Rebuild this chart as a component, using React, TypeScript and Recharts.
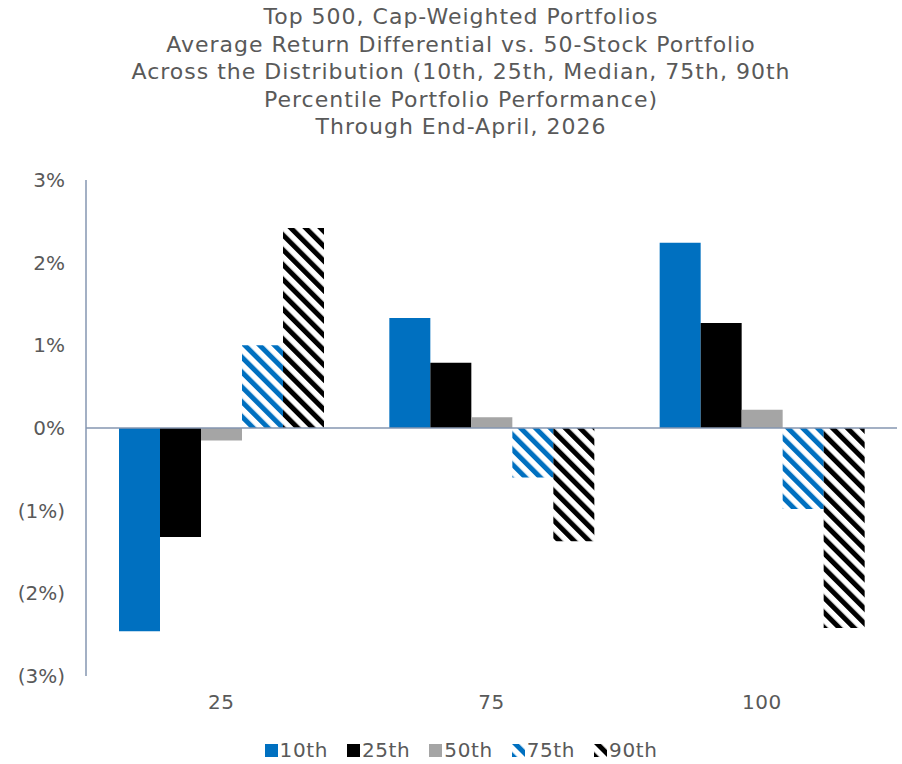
import React from "react";
import { BarChart, Bar, XAxis, YAxis, ReferenceLine } from "recharts";

const categories = ["25", "75", "100"];
const p10 = [-2.46, 1.33, 2.24];
const p25 = [-1.32, 0.79, 1.27];
const p50 = [-0.15, 0.13, 0.22];
const p75 = [1.0, -0.6, -0.98];
const p90 = [2.42, -1.37, -2.42];
const yTicks = [-3, -2, -1, 0, 1, 2, 3];
const titleLines = [
  "Top 500, Cap-Weighted Portfolios",
  "Average Return Differential vs. 50-Stock Portfolio",
  "Across the Distribution (10th, 25th, Median, 75th, 90th",
  "Percentile Portfolio Performance)",
  "Through End-April, 2026",
];

const series = [
  { key: "p10", name: "10th", fill: "#0070C0", hatch: false },
  { key: "p25", name: "25th", fill: "#000000", hatch: false },
  { key: "p50", name: "50th", fill: "#A5A5A5", hatch: false },
  { key: "p75", name: "75th", fill: "#0070C0", hatch: true },
  { key: "p90", name: "90th", fill: "#000000", hatch: true },
];

const data = categories.map((c, i) => ({
  cat: c,
  p10: p10[i],
  p25: p25[i],
  p50: p50[i],
  p75: p75[i],
  p90: p90[i],
}));

const FONT = "'DejaVu Sans', sans-serif";
const TEXT = "#595959";
const AXIS = "#8496B0";

const fmt = (v: number) => (v < 0 ? `(${Math.abs(v)}%)` : `${v}%`);

const Patterns = ({ prefix }: { prefix: string }) => (
  <defs>
    {series
      .filter((s) => s.hatch)
      .map((s) => (
        <pattern
          key={s.key}
          id={`${prefix}-${s.key}`}
          patternUnits="userSpaceOnUse"
          width={10.5}
          height={10.5}
          patternTransform="rotate(-45)"
        >
          <rect x={0} y={0} width={5} height={10.5} fill={s.fill} />
        </pattern>
      ))}
  </defs>
);

const LegendBox = () => (
  <div
    style={{
      position: "absolute",
      left: 0,
      top: 738,
      width: 922,
      display: "flex",
      justifyContent: "center",
      fontFamily: FONT,
      fontSize: 20,
      letterSpacing: 0.6,
      color: TEXT,
      gap: 19,
    }}
  >
    {series.map((s) => (
      <div key={s.key} style={{ display: "flex", alignItems: "center" }}>
        <svg width={13} height={13} style={{ marginRight: 2 }}>
          <Patterns prefix="lg" />
          <rect
            width={13}
            height={13}
            fill={s.hatch ? `url(#lg-${s.key})` : s.fill}
          />
        </svg>
        <span>{s.name}</span>
      </div>
    ))}
  </div>
);

export default function App() {
  return (
    <div
      style={{
        position: "absolute",
        left: 0,
        top: 0,
        width: 902,
        height: 764,
        background: "#fff",
      }}
    >
      <div
        style={{
          position: "absolute",
          left: 0,
          top: 3,
          width: 922,
          textAlign: "center",
          fontFamily: FONT,
          fontSize: 22,
          letterSpacing: 1,
          lineHeight: "27.5px",
          color: TEXT,
        }}
      >
        {titleLines.map((t) => (
          <div key={t}>{t}</div>
        ))}
      </div>
      <div style={{ position: "absolute", left: 0, top: 0 }}>
        <BarChart
          width={902}
          height={764}
          data={data}
          margin={{ top: 180, right: 5, left: 0, bottom: 48 }}
          barGap={0}
          barSize={41}
        >
          <Patterns prefix="ch" />
          <XAxis
            dataKey="cat"
            axisLine={false}
            tickLine={false}
            tickSize={6}
            tickMargin={13}
            height={40}
            tick={{ fill: TEXT, fontSize: 20, fontFamily: FONT, letterSpacing: 0.5 }}
          />
          <YAxis
            width={86}
            domain={[-3, 3]}
            ticks={yTicks}
            tickFormatter={fmt}
            axisLine={{ stroke: AXIS, strokeWidth: 1.5 }}
            tickLine={false}
            tickSize={6}
            tickMargin={15}
            tick={{ fill: TEXT, fontSize: 20, fontFamily: FONT }}
          />
          {series.map((s) => (
            <Bar
              key={s.key}
              dataKey={s.key}
              name={s.name}
              fill={s.hatch ? `url(#ch-${s.key})` : s.fill}
              isAnimationActive={false}
            />
          ))}
          <ReferenceLine y={0} stroke={AXIS} strokeWidth={1.5} />
        </BarChart>
      </div>
      <LegendBox />
    </div>
  );
}
